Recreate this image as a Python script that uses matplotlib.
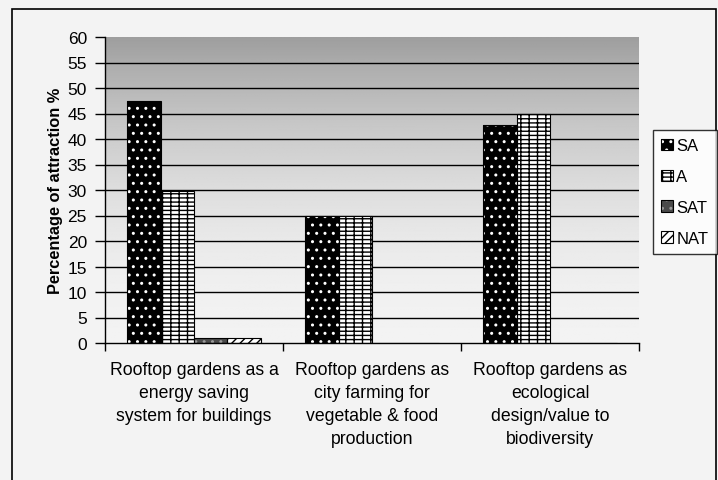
import numpy as np
import matplotlib
matplotlib.use("Agg")
import matplotlib.pyplot as plt
from matplotlib.patches import Patch, Rectangle
from matplotlib.legend_handler import HandlerTuple

plt.rcParams['font.family'] = ['Liberation Sans', 'DejaVu Sans']
plt.rcParams['hatch.linewidth'] = 1.0

categories = [
    "Rooftop gardens as a\nenergy saving\nsystem for buildings",
    "Rooftop gardens as\ncity farming for\nvegetable & food\nproduction",
    "Rooftop gardens as\necological\ndesign/value to\nbiodiversity",
]
series_names = ["SA", "A", "SAT", "NAT"]
sa = [47.5, 25, 42.7]
a = [29.8, 25, 45]
sat = [1, 0, 0]
nat = [1, 0, 0]
values = [sa, a, sat, nat]
yticks = list(range(0, 61, 5))

# styles: (facecolor, hatchcolor, hatch)
styles = [
    ("black", "white", ".."),
    ("white", "black", "----||"),
    ("#4a4a4a", "#9a9a9a", ".."),
    ("white", "black", "////"),
]

fig = plt.figure(figsize=(7.18, 4.81), dpi=100)
fig.patch.set_facecolor("#f3f3f3")
ax = fig.add_axes([105/718, 1-344/481, (639-105)/718, (344-38)/481])

# frame around chart
fig.patches.append(Rectangle((12/718, -0.05), (716-12)/718, 1-10/481+0.05,
                             transform=fig.transFigure, fill=False,
                             edgecolor="black", linewidth=1.2))

n = len(categories)
x = np.arange(n)
ax.set_xlim(-0.5, n - 0.5)
ax.set_ylim(0, 60)

# gradient background
yy = np.linspace(0, 1, 200)[:, None]
grad = 0.95 - 0.33 * yy**2.0
ax.imshow(np.repeat(grad, 2, axis=1), extent=[-0.5, n-0.5, 0, 60], origin="lower",
          aspect="auto", cmap="gray", vmin=0, vmax=1, zorder=0)

for yv in yticks[1:-1]:
    ax.axhline(yv, color="black", linewidth=1.0, zorder=1)

w = 0.188
handles = []
for i, (vals, (fc, hc, h)) in enumerate(zip(values, styles)):
    pos = x + (i - 1.5) * w
    ax.bar(pos, vals, width=w, facecolor=fc, edgecolor=hc, hatch=h,
           linewidth=0, zorder=2)
    ax.bar(pos, vals, width=w, fill=False, edgecolor="black", linewidth=0.8, zorder=3)
    handles.append((Patch(facecolor=fc, edgecolor=hc, hatch=h, linewidth=0),
                    Patch(fill=False, edgecolor="black", linewidth=0.8)))

for s in ["top", "right"]:
    ax.spines[s].set_visible(False)
ax.spines["left"].set_linewidth(1.0)
ax.spines["bottom"].set_linewidth(1.0)
ax.spines["left"].set_zorder(4)
ax.spines["bottom"].set_zorder(4)

ax.set_yticks(yticks)
ax.set_yticklabels([str(v) for v in yticks], fontsize=12.5)
ax.tick_params(axis="y", direction="out", length=7, width=1, pad=6)

ax.set_xticks(np.arange(n + 1) - 0.5)
ax.set_xticklabels([])
ax.tick_params(axis="x", which="major", direction="out", length=6, width=1)
ax.set_xticks(x, minor=True)
ax.set_xticklabels(categories, minor=True, fontsize=12.7, linespacing=1.45)
ax.tick_params(axis="x", which="minor", length=0, pad=13)

ax.set_ylabel("Percentage of attraction %", fontsize=11.8, fontweight="bold", labelpad=3)

leg = fig.legend(handles, series_names, handler_map={tuple: HandlerTuple(ndivide=1)},
                 loc="upper left", bbox_to_anchor=(653/718, 1-131/481),
                 frameon=True, fancybox=False, fontsize=12, handlelength=0.7,
                 handleheight=0.7, handletextpad=0.2, labelspacing=0.95,
                 borderpad=0.5, borderaxespad=0)
leg.get_frame().set_edgecolor("black")
leg.get_frame().set_linewidth(1.0)
leg.get_frame().set_facecolor("white")

fig.savefig("out.png", dpi=100, facecolor=fig.get_facecolor())
